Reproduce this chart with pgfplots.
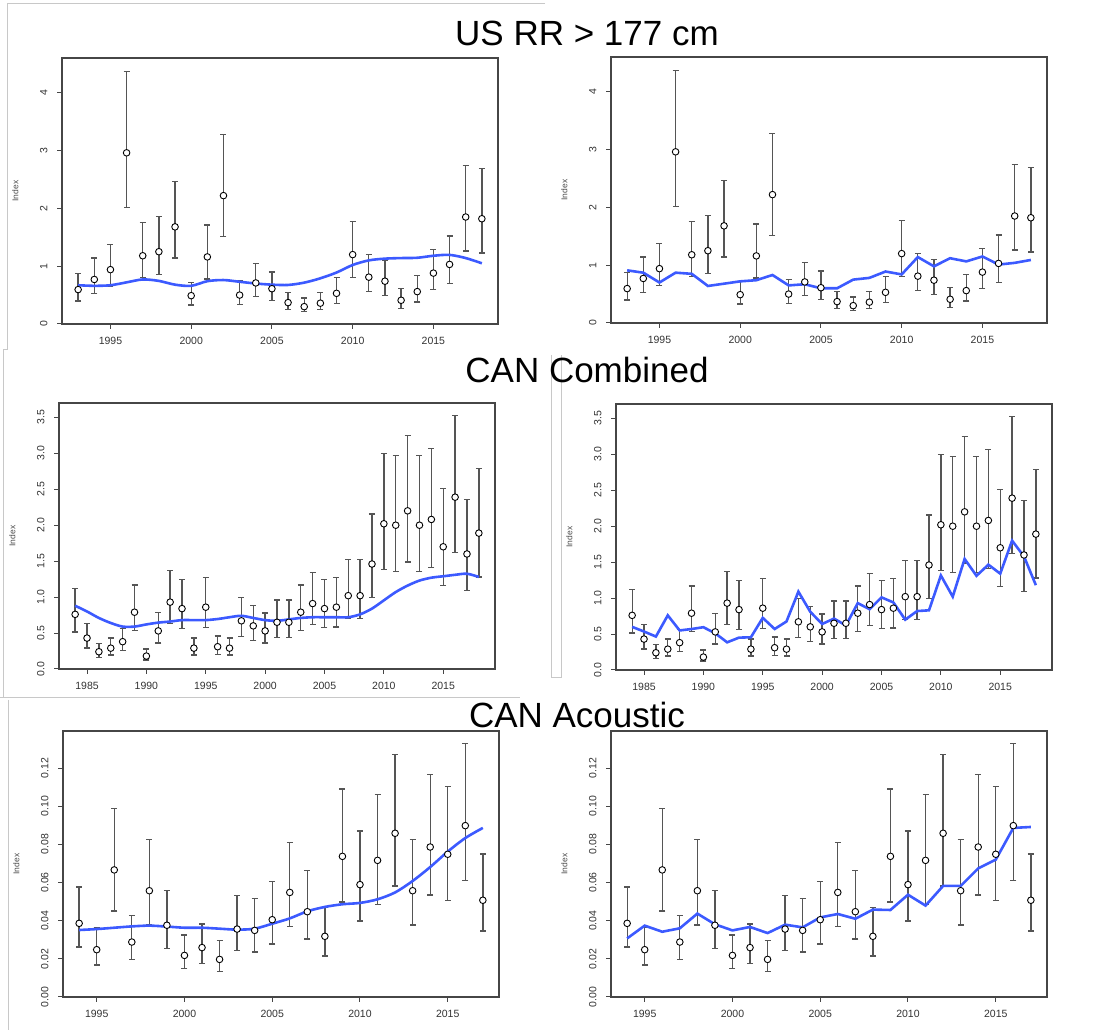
\documentclass[border=0pt]{standalone}
\usepackage{pgfplots}
\pgfplotsset{compat=1.18}
\usepackage{pgfplotstable}
\usepackage{fontspec}
\setmainfont{Liberation Sans}
\definecolor{rblue}{RGB}{60,90,255}
\definecolor{errc}{RGB}{85,85,85}
\definecolor{axc}{RGB}{70,70,70}
\definecolor{framec}{RGB}{200,200,200}

\pgfplotstableread{
x y hi lo
1993 0.595 0.87 0.395
1994 0.77 1.14 0.53
1995 0.94 1.38 0.65
1996 2.96 4.37 2.01
1997 1.18 1.75 0.80
1998 1.25 1.86 0.85
1999 1.68 2.47 1.14
2000 0.49 0.72 0.33
2001 1.16 1.71 0.78
2002 2.22 3.28 1.51
2003 0.50 0.75 0.34
2004 0.71 1.05 0.47
2005 0.61 0.90 0.41
2006 0.37 0.54 0.25
2007 0.30 0.45 0.21
2008 0.36 0.54 0.25
2009 0.53 0.80 0.36
2010 1.20 1.77 0.81
2011 0.81 1.20 0.56
2012 0.74 1.10 0.49
2013 0.41 0.61 0.27
2014 0.56 0.84 0.38
2015 0.88 1.29 0.60
2016 1.03 1.52 0.70
2017 1.85 2.74 1.26
2018 1.82 2.69 1.23
}\usdata

\pgfplotstableread{
x y
1993 0.67
1994 0.66
1995 0.67
1996 0.72
1997 0.77
1998 0.745
1999 0.68
2000 0.66
2001 0.74
2002 0.76
2003 0.73
2004 0.70
2005 0.68
2006 0.675
2007 0.715
2008 0.79
2009 0.89
2010 1.02
2011 1.10
2012 1.13
2013 1.14
2014 1.145
2015 1.18
2016 1.195
2017 1.14
2018 1.05
}\ussmooth

\pgfplotstableread{
x y
1993 0.91
1994 0.87
1995 0.70
1996 0.87
1997 0.85
1998 0.64
1999 0.68
2000 0.72
2001 0.74
2002 0.83
2003 0.65
2004 0.67
2005 0.60
2006 0.60
2007 0.75
2008 0.78
2009 0.89
2010 0.84
2011 1.14
2012 0.98
2013 1.12
2014 1.065
2015 1.15
2016 1.01
2017 1.04
2018 1.09
}\usfit

\pgfplotstableread{
x y hi lo
1984 0.76 1.12 0.515
1985 0.43 0.635 0.29
1986 0.24 0.35 0.16
1987 0.29 0.43 0.195
1988 0.38 0.56 0.255
1989 0.79 1.17 0.54
1990 0.18 0.28 0.125
1991 0.53 0.79 0.36
1992 0.93 1.37 0.63
1993 0.84 1.24 0.565
1994 0.29 0.43 0.195
1995 0.86 1.27 0.58
1996 0.31 0.46 0.20
1997 0.29 0.43 0.195
1998 0.67 0.99 0.455
1999 0.60 0.885 0.40
2000 0.53 0.78 0.36
2001 0.65 0.96 0.44
2002 0.65 0.96 0.44
2003 0.79 1.17 0.54
2004 0.91 1.34 0.62
2005 0.84 1.24 0.575
2006 0.86 1.27 0.585
2007 1.02 1.52 0.705
2008 1.02 1.52 0.705
2009 1.46 2.155 0.99
2010 2.02 2.995 1.38
2011 2.00 2.97 1.36
2012 2.20 3.25 1.49
2013 2.00 2.97 1.36
2014 2.08 3.07 1.41
2015 1.70 2.51 1.16
2016 2.39 3.53 1.62
2017 1.60 2.36 1.09
2018 1.89 2.79 1.28
}\candata

\pgfplotstableread{
x y
1984 0.88
1985 0.80
1986 0.71
1987 0.64
1988 0.59
1989 0.59
1990 0.62
1991 0.645
1992 0.66
1993 0.68
1994 0.68
1995 0.68
1996 0.695
1997 0.72
1998 0.74
1999 0.71
2000 0.68
2001 0.67
2002 0.69
2003 0.71
2004 0.72
2005 0.72
2006 0.72
2007 0.72
2008 0.76
2009 0.84
2010 0.955
2011 1.07
2012 1.16
2013 1.23
2014 1.27
2015 1.29
2016 1.31
2017 1.325
2018 1.28
}\cansmooth

\pgfplotstableread{
x y
1984 0.60
1985 0.535
1986 0.465
1987 0.76
1988 0.55
1989 0.57
1990 0.595
1991 0.51
1992 0.385
1993 0.45
1994 0.455
1995 0.725
1996 0.57
1997 0.675
1998 1.09
1999 0.81
2000 0.64
2001 0.715
2002 0.62
2003 0.93
2004 0.845
2005 1.01
2006 0.94
2007 0.70
2008 0.82
2009 0.83
2010 1.315
2011 1.02
2012 1.545
2013 1.31
2014 1.465
2015 1.34
2016 1.80
2017 1.58
2018 1.18
}\canfit

\pgfplotstableread{
x y hi lo
1994 0.0386 0.0576 0.0262
1995 0.0248 0.0365 0.0168
1996 0.0666 0.0987 0.0451
1997 0.0288 0.0426 0.0196
1998 0.0557 0.0826 0.0377
1999 0.0376 0.0559 0.0255
2000 0.0218 0.0325 0.0148
2001 0.0259 0.0383 0.0176
2002 0.0197 0.0295 0.0133
2003 0.0356 0.0531 0.0245
2004 0.0349 0.0515 0.0236
2005 0.0405 0.0604 0.0278
2006 0.0548 0.0809 0.0370
2007 0.0447 0.0662 0.0304
2008 0.0318 0.0470 0.0215
2009 0.0737 0.1090 0.0498
2010 0.0589 0.0870 0.0398
2011 0.0716 0.1062 0.0484
2012 0.0858 0.1270 0.0582
2013 0.0557 0.0826 0.0377
2014 0.0786 0.1167 0.0534
2015 0.0748 0.1104 0.0505
2016 0.0898 0.1328 0.0610
2017 0.0507 0.0749 0.0346
}\acdata

\pgfplotstableread{
x y
1994 0.0351
1995 0.0356
1996 0.0363
1997 0.0370
1998 0.0374
1999 0.0369
2000 0.0363
2001 0.0363
2002 0.0358
2003 0.0353
2004 0.0358
2005 0.0384
2006 0.0412
2007 0.0449
2008 0.0472
2009 0.0486
2010 0.0493
2011 0.0512
2012 0.0548
2013 0.0608
2014 0.0681
2015 0.0762
2016 0.0833
2017 0.0886
}\acsmooth

\pgfplotstableread{
x y
1994 0.0307
1995 0.0374
1996 0.0342
1997 0.0360
1998 0.0437
1999 0.0381
2000 0.0349
2001 0.0367
2002 0.0335
2003 0.0379
2004 0.0365
2005 0.0417
2006 0.0435
2007 0.0410
2008 0.0458
2009 0.0456
2010 0.0536
2011 0.0479
2012 0.0582
2013 0.0582
2014 0.0674
2015 0.0720
2016 0.0886
2017 0.0891
}\acfit

\pgfplotsset{
  rpanel/.style={
    scale only axis, width=436pt, height=266pt, anchor=south west,
    axis line style={axc, line width=1.1pt},
    tick pos=left, tick align=outside, major tick length=5pt,
    every tick/.style={axc, line width=1pt},
    /pgf/number format/assume math mode=true,
    /pgf/number format/1000 sep={},
    scaled ticks=false,
    tick label style={font=\fontsize{10.5}{12}\selectfont, text=black!80},
    yticklabel style={rotate=90, anchor=south},
    xticklabel shift=5pt, yticklabel shift=6pt,
    every axis y label/.style={at={(axis description cs:-0.107,0.5)}, rotate=90, anchor=center, font=\fontsize{8.5}{10}\selectfont, text=black!70},
    ylabel={Index},
    clip=false,
  },
  uspanel/.style={rpanel, xmin=1992, xmax=2019, ymin=0, ymax=4.6,
    xtick={1995,2000,2005,2010,2015}, ytick={0,1,2,3,4}},
  canpanel/.style={rpanel, xmin=1982.64, xmax=2019.36, ymin=0, ymax=3.7,
    xtick={1985,1990,1995,2000,2005,2010,2015}, ytick={0,0.5,1,1.5,2,2.5,3,3.5},
    yticklabel style={/pgf/number format/.cd, fixed, fixed zerofill, precision=1}},
  acpanel/.style={rpanel, xmin=1993.08, xmax=2017.92, ymin=0, ymax=0.1394,
    xtick={1995,2000,2005,2010,2015}, ytick={0,0.02,0.04,0.06,0.08,0.10,0.12},
    yticklabel style={/pgf/number format/.cd, fixed, fixed zerofill, precision=2}},
  errpts/.style={only marks, mark=*, mark size=3.3pt,
    mark options={fill=white, draw=black, line width=0.9pt},
    error bars/y dir=both, error bars/y explicit,
    error bars/error mark=|,
    error bars/error bar style={errc, line width=1.3pt},
    error bars/error mark options={errc, line width=1.3pt, mark size=3pt}},
  bline/.style={rblue, line width=2.6pt, no marks},
}

\begin{document}
\begin{tikzpicture}
\path[use as bounding box] (0,0) rectangle (1100pt,1030pt);

% faint screenshot frames
\draw[framec, line width=0.8pt] (545pt,1027pt) -- (7pt,1027pt) -- (7pt,681pt) -- (3pt,681pt) -- (3pt,333pt);
\draw[framec, line width=0.8pt] (0pt,333pt) -- (520pt,333pt);
\draw[framec, line width=0.8pt] (551pt,675pt) -- (551pt,353pt) -- (561pt,353pt) -- (561pt,675pt);
\draw[framec, line width=0.8pt] (8pt,330pt) -- (8pt,0pt);

% titles
\node[anchor=base, font=\fontsize{35}{40}\selectfont] at (587pt,984pt) {US RR > 177 cm};
\node[anchor=base, font=\fontsize{35}{40}\selectfont] at (587pt,647pt) {CAN Combined};
\node[anchor=base, font=\fontsize{35}{40}\selectfont] at (577pt,302pt) {CAN Acoustic};

% panel 1
\begin{axis}[uspanel, at={(62pt,706pt)}]
\addplot[errpts] table[x=x, y=y, y error plus expr=\thisrow{hi}-\thisrow{y}, y error minus expr=\thisrow{y}-\thisrow{lo}] {\usdata};
\addplot[bline, smooth] table[x=x,y=y] {\ussmooth};
\end{axis}
% panel 2
\begin{axis}[uspanel, at={(611pt,707pt)}]
\addplot[errpts] table[x=x, y=y, y error plus expr=\thisrow{hi}-\thisrow{y}, y error minus expr=\thisrow{y}-\thisrow{lo}] {\usdata};
\addplot[bline] table[x=x,y=y] {\usfit};
\end{axis}
% panel 3
\begin{axis}[canpanel, at={(59pt,361pt)}]
\addplot[errpts] table[x=x, y=y, y error plus expr=\thisrow{hi}-\thisrow{y}, y error minus expr=\thisrow{y}-\thisrow{lo}] {\candata};
\addplot[bline, smooth] table[x=x,y=y] {\cansmooth};
\end{axis}
% panel 4
\begin{axis}[canpanel, at={(616pt,360pt)}]
\addplot[errpts] table[x=x, y=y, y error plus expr=\thisrow{hi}-\thisrow{y}, y error minus expr=\thisrow{y}-\thisrow{lo}] {\candata};
\addplot[bline] table[x=x,y=y] {\canfit};
\end{axis}
% panel 5
\begin{axis}[acpanel, at={(63pt,33pt)}]
\addplot[errpts] table[x=x, y=y, y error plus expr=\thisrow{hi}-\thisrow{y}, y error minus expr=\thisrow{y}-\thisrow{lo}] {\acdata};
\addplot[bline, smooth] table[x=x,y=y] {\acsmooth};
\end{axis}
% panel 6
\begin{axis}[acpanel, at={(611pt,33pt)}]
\addplot[errpts] table[x=x, y=y, y error plus expr=\thisrow{hi}-\thisrow{y}, y error minus expr=\thisrow{y}-\thisrow{lo}] {\acdata};
\addplot[bline] table[x=x,y=y] {\acfit};
\end{axis}
\end{tikzpicture}
\end{document}
